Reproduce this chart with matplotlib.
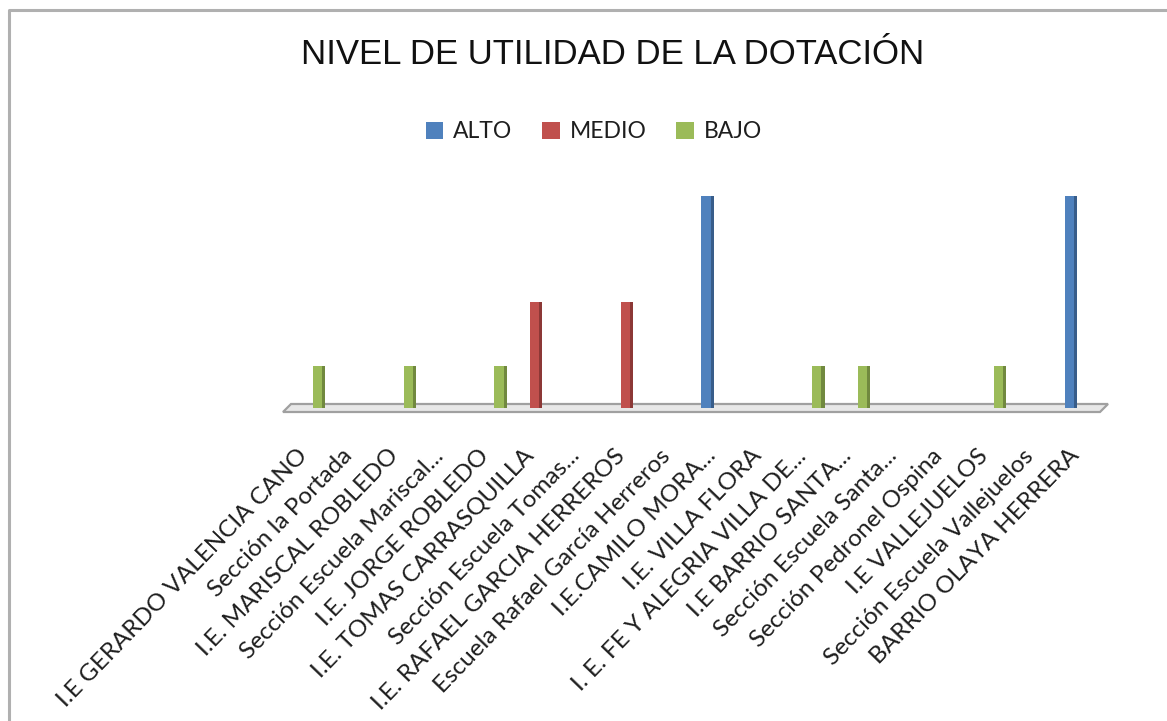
import matplotlib
matplotlib.use("Agg")
import matplotlib.pyplot as plt
import numpy as np
from matplotlib.patches import Polygon, Patch
from matplotlib.lines import Line2D
from matplotlib.transforms import ScaledTranslation

categories = [
    "I.E GERARDO VALENCIA CANO",
    "Sección la Portada",
    "I.E. MARISCAL ROBLEDO",
    "Sección Escuela Mariscal...",
    "I.E. JORGE ROBLEDO",
    "I.E. TOMAS CARRASQUILLA",
    "Sección Escuela Tomas...",
    "I.E. RAFAEL GARCIA HERREROS",
    "Escuela Rafael García Herreros",
    "I.E.CAMILO MORA...",
    "I.E. VILLA FLORA",
    "I. E. FE Y ALEGRIA VILLA DE...",
    "I.E BARRIO SANTA...",
    "Sección Escuela Santa...",
    "Sección Pedronel Ospina",
    "I.E VALLEJUELOS",
    "Sección Escuela Vallejuelos",
    "BARRIO OLAYA HERRERA",
]
alto  = [0, 0, 0, 0, 0, 0, 0, 0, 0, 100, 0, 0, 0, 0, 0, 0, 0, 100]
medio = [0, 0, 0, 0, 0, 50, 0, 50, 0, 0, 0, 0, 0, 0, 0, 0, 0, 0]
bajo  = [20, 0, 20, 0, 20, 0, 0, 0, 0, 0, 0, 20, 20, 0, 0, 20, 0, 0]
series_names = ["ALTO", "MEDIO", "BAJO"]
face_colors = ["#4F81BD", "#C0504D", "#9BBB59"]
side_colors = ["#385D8A", "#8C3836", "#71893F"]

W, H = 1167, 721
fig = plt.figure(figsize=(W / 100, H / 100), dpi=100)
fig.patch.set_facecolor("white")

def fx(px):
    return px / W

def fy(py):
    return 1 - py / H

ax_left, ax_right = 287, 1104
base_y, top_y = 408, 196
ax = fig.add_axes([fx(ax_left), fy(base_y), fx(ax_right - ax_left), (base_y - top_y) / H])
ax.set_xlim(-0.5, len(categories) - 0.5)
ax.set_ylim(0, 100)
ax.patch.set_alpha(0)
for s in ax.spines.values():
    s.set_visible(False)
ax.set_yticks([])

x = np.arange(len(categories))
slot = 0.22
face_w = 0.21
side_w = 0.07
shift = -0.045
for k, vals in enumerate([alto, medio, bajo]):
    xs = x + (k - 1) * slot + shift
    ax.bar(xs, vals, width=face_w, color=face_colors[k], zorder=3, clip_on=False)
    ax.bar(xs + face_w / 2 + side_w / 2 - 0.005, vals, width=side_w,
           color=side_colors[k], zorder=3, clip_on=False)

# floor
floor = Polygon([(fx(283), fy(412)), (fx(291), fy(404)), (fx(1108), fy(404)), (fx(1100), fy(412))],
                closed=True, transform=fig.transFigure, facecolor="#e8e8e8",
                edgecolor="#a0a0a0", lw=1.6, zorder=1, clip_on=False)
ax.add_patch(floor)

ax.set_xticks(x)
ax.set_xticklabels(categories, rotation=46, ha="right", va="center",
                   rotation_mode="anchor", fontsize=17.5, family=["Lato", "DejaVu Sans"],
                   color="#1e1e1e")
ax.tick_params(axis="x", length=0, pad=32)
off = ScaledTranslation(-6 / 100, 0, fig.dpi_scale_trans)
for lab in ax.get_xticklabels():
    lab.set_transform(lab.get_transform() + off)

fig.text(fx(613), fy(55), "NIVEL DE UTILIDAD DE LA DOTACIÓN", ha="center", va="center",
         fontsize=25, family=["Liberation Sans", "DejaVu Sans"], color="#111111")

handles = [Patch(facecolor=c, edgecolor="none") for c in face_colors]
fig.legend(handles, series_names, loc="center", bbox_to_anchor=(fx(594), fy(132)), ncol=3,
           frameon=False, prop={"family": ["Lato", "DejaVu Sans"], "size": 16.5},
           handlelength=0.75, handleheight=0.75, handletextpad=0.45, columnspacing=1.3,
           labelcolor="#1e1e1e")

# chart border (left and top)
fig.add_artist(Line2D([fx(9), fx(9), fx(W)], [0, fy(10), fy(10)], color="#b0b0b0", lw=2.2,
                      transform=fig.transFigure))

fig.savefig("out.png", dpi=100)
